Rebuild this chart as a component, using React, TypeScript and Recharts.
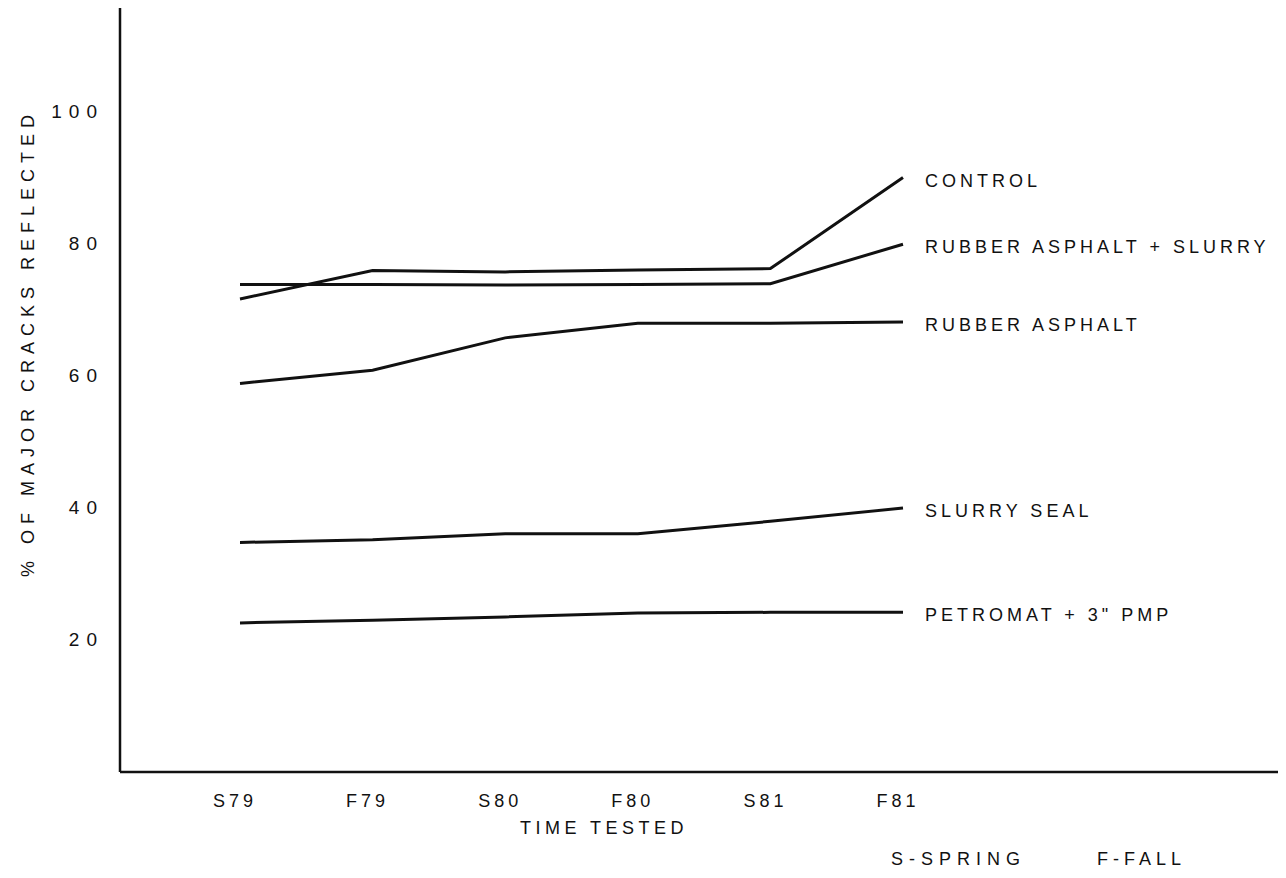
import React from "react";
import { LineChart, Line, XAxis, YAxis } from "recharts";

const seasons = ["S79", "F79", "S80", "F80", "S81", "F81"];
const control = [71.7, 76.0, 75.8, 76.1, 76.3, 90.1];
const rubberSlurry = [73.9, 73.9, 73.8, 73.9, 74.0, 80.0];
const rubberAsphalt = [58.9, 60.9, 65.8, 68.0, 68.0, 68.2];
const slurrySeal = [34.8, 35.2, 36.1, 36.1, 38.0, 40.0];
const petromat = [22.6, 23.0, 23.5, 24.1, 24.2, 24.2];
const yTicks = [20, 40, 60, 80, 100];

const series = [
  { key: "control", name: "CONTROL", values: control },
  { key: "rubberSlurry", name: "RUBBER ASPHALT + SLURRY", values: rubberSlurry },
  { key: "rubberAsphalt", name: "RUBBER ASPHALT", values: rubberAsphalt },
  { key: "slurrySeal", name: "SLURRY SEAL", values: slurrySeal },
  { key: "petromat", name: 'PETROMAT + 3" PMP', values: petromat },
];

const data = seasons.map((season, i) => {
  const row: Record<string, string | number> = { season };
  series.forEach((s) => {
    row[s.key] = s.values[i];
  });
  return row;
});

const FONT = '"Liberation Sans", Arial, sans-serif';
const INK = "#111";

const XTick = (props: any) => {
  const { x, y, payload } = props;
  return (
    <text x={x - 5} y={y} dy={13} textAnchor="middle" fontFamily={FONT} fontSize={18} letterSpacing={4} fill={INK}>
      {payload.value}
    </text>
  );
};

const YTick = (props: any) => {
  const { x, y, payload } = props;
  return (
    <text x={x} y={y} dy={6} textAnchor="end" fontFamily={FONT} fontSize={19} letterSpacing={7} fill={INK}>
      {payload.value}
    </text>
  );
};

// name written to the right of the last point of each line
const endLabel = (name: string) => (props: any) => {
  if (props.index !== seasons.length - 1) return null;
  const x = props.x ?? props.viewBox?.x;
  const y = props.y ?? props.viewBox?.y;
  return (
    <text key={name} x={x + 22} y={y + 3} dy={6} fontFamily={FONT} fontSize={18} letterSpacing={4} fill={INK}>
      {name}
    </text>
  );
};

const textStyle: React.CSSProperties = {
  position: "absolute",
  fontFamily: FONT,
  fontSize: 18,
  lineHeight: 1,
  color: INK,
  whiteSpace: "nowrap",
};

export default function App() {
  return (
    <div style={{ position: "relative", width: 1270, height: 862 }}>
      <LineChart width={1270} height={860} data={data} margin={{ top: 0, right: 0, bottom: 0, left: 0 }}>
        <XAxis
          dataKey="season"
          interval={0}
          padding={{ left: 120, right: 375 }}
          height={96}
          tickLine={false}
          tickSize={20}
          tick={<XTick />}
          stroke={INK}
          strokeWidth={2.5}
        />
        <YAxis
          type="number"
          domain={[0, 115.8]}
          ticks={yTicks}
          width={112}
          tickLine={false}
          tickSize={14}
          tick={<YTick />}
          stroke={INK}
          strokeWidth={2.5}
          allowDataOverflow
        />
        {series.map((s) => (
          <Line
            key={s.key}
            dataKey={s.key}
            type="linear"
            stroke={INK}
            strokeWidth={3}
            dot={false}
            activeDot={false}
            label={endLabel(s.name)}
            isAnimationActive={false}
          />
        ))}
      </LineChart>
      <div style={{ ...textStyle, left: 20, top: 335, letterSpacing: 6, transform: "translate(-50%, -50%) rotate(-90deg)" }}>
        % OF MAJOR CRACKS REFLECTED
      </div>
      <div style={{ ...textStyle, left: 596, top: 820, letterSpacing: 4.5, transform: "translate(-50%, -50%)" }}>
        TIME TESTED
      </div>
      <div style={{ ...textStyle, left: 883, top: 851, letterSpacing: 6, transform: "translateY(-50%)" }}>
        S-SPRING
      </div>
      <div style={{ ...textStyle, left: 1089, top: 851, letterSpacing: 5, transform: "translateY(-50%)" }}>
        F-FALL
      </div>
    </div>
  );
}
